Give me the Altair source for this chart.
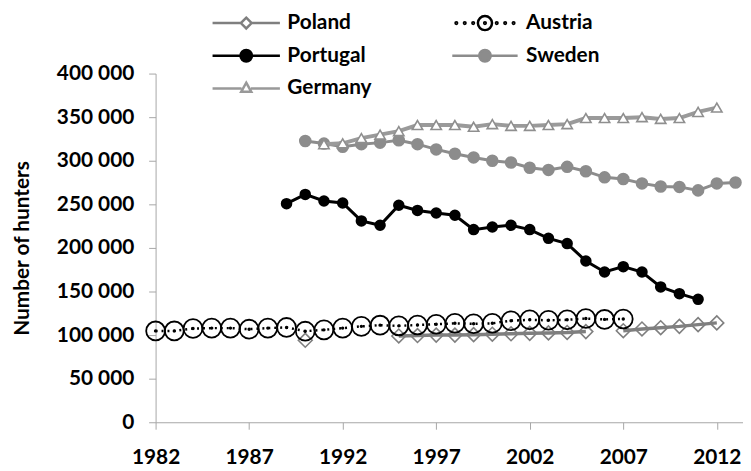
import altair as alt
import pandas as pd

countries = ["Poland", "Austria", "Portugal", "Sweden", "Germany"]

poland_years = [1990, 1995, 1996, 1997, 1998, 1999, 2000, 2001, 2002, 2003, 2004, 2005,
                2007, 2008, 2009, 2010, 2011, 2012]
poland_values = [94000, 99000, 99500, 100000, 100000, 100500, 101000, 101500, 102000, 102500,
                 103000, 104000, 105000, 107000, 108500, 110000, 112000, 114000]

austria_years = list(range(1982, 2008))
austria_values = [104800, 104800, 107500, 108000, 108000, 106800, 108000, 108800, 104500, 106000,
                  108000, 110000, 111400, 110600, 111500, 112500, 113500, 113000, 113500, 116500,
                  117500, 117000, 117500, 119000, 118000, 118500]

portugal_years = list(range(1989, 2012))
portugal_values = [250800, 261400, 253800, 251500, 231000, 226000, 249000, 243000, 240000, 237500,
                   221000, 224000, 226000, 221000, 211000, 205000, 185000, 172400, 178500, 172400,
                   155300, 147500, 141000]

sweden_years = list(range(1990, 2014))
sweden_values = [322700, 319700, 316000, 319000, 320800, 323500, 319000, 313000, 308000, 303800,
                 300000, 298000, 292000, 289500, 293000, 288000, 281000, 279000, 274000, 270500,
                 270000, 266000, 274000, 275000]

germany_years = list(range(1991, 2013))
germany_values = [319000, 320000, 326000, 330000, 334000, 341000, 341000, 341000, 339000, 342000,
                  340000, 340000, 341000, 342000, 349000, 349000, 349000, 350000, 348000, 349000,
                  356000, 361000]

x_ticks = [1982, 1987, 1992, 1997, 2002, 2007, 2012]
y_ticks = [0, 50000, 100000, 150000, 200000, 250000, 300000, 350000, 400000]

FONT = "Lato"


def series(name, yrs, vals):
    rows = []
    seg = 0
    prev = None
    for yr, v in zip(yrs, vals):
        if prev is not None and yr - prev > 1:
            seg += 1
        rows.append({"country": name, "year": yr, "hunters": v, "seg": seg})
        prev = yr
    return pd.DataFrame(rows)


df_pol = series("Poland", poland_years, poland_values)
df_aut = series("Austria", austria_years, austria_values)
df_por = series("Portugal", portugal_years, portugal_values)
df_swe = series("Sweden", sweden_years, sweden_values)
df_ger = series("Germany", germany_years, germany_values)

AXIS_GREY = "#a6a6a6"

X = alt.X(
    "year:Q",
    scale=alt.Scale(domain=[1982, 2013.4], nice=False, zero=False),
    axis=alt.Axis(
        values=x_ticks, format="d", title=None, grid=False,
        domainColor=AXIS_GREY, tickColor=AXIS_GREY, tickSize=7,
        labelFont=FONT, labelFontSize=21, labelFontWeight="bold", labelColor="black",
        labelPadding=18, labelFlush=False, labelOverlap=False,
    ),
)
Y = alt.Y(
    "hunters:Q",
    scale=alt.Scale(domain=[0, 400000], nice=False),
    axis=alt.Axis(
        values=y_ticks, grid=False, title="Number of hunters",
        labelExpr="replace(format(datum.value, ','), ',', ' ')",
        domainColor=AXIS_GREY, tickColor=AXIS_GREY, tickSize=7,
        labelFont=FONT, labelFontSize=21, labelFontWeight="bold", labelColor="black",
        labelPadding=15,
        titleFont=FONT, titleFontSize=21, titleFontWeight="bold", titleColor="black",
        titleAngle=270, titleAlign="center", titleBaseline="middle",
        titleX=-134, titleY=176,
    ),
)


def line(df, color, width, dash=None):
    kw = dict(color=color, strokeWidth=width)
    if dash:
        kw["strokeDash"] = dash
    return alt.Chart(df).mark_line(**kw).encode(x=X, y=Y, detail="seg:N")


swe_line = line(df_swe, "#8c8c8c", 3)
swe_pts = alt.Chart(df_swe).mark_circle(size=160, color="#8c8c8c", opacity=1).encode(x=X, y=Y)

ger_line = line(df_ger, "#9a9a9a", 4)
ger_pts = alt.Chart(df_ger).mark_point(
    shape="triangle-up", size=110, filled=True, fill="white", stroke="#8f8f8f",
    strokeWidth=1.6, opacity=1
).encode(x=X, y=Y)

por_line = line(df_por, "black", 3)
por_pts = alt.Chart(df_por).mark_circle(size=135, color="black", opacity=1).encode(x=X, y=Y)

pol_line = line(df_pol, "#7f7f7f", 3.5)
pol_pts = alt.Chart(df_pol).mark_point(
    shape="diamond", size=196, filled=False, stroke="#7f7f7f", strokeWidth=1.6, opacity=1
).encode(x=X, y=Y)

aut_line = line(df_aut, "black", 2.5, [2, 4])
aut_pts = alt.Chart(df_aut).mark_point(
    shape="circle", size=361, filled=False, stroke="black", strokeWidth=1.8, opacity=1
).encode(x=X, y=Y)
aut_dots = alt.Chart(df_aut).mark_circle(size=12, color="black", opacity=1).encode(x=X, y=Y)


def circ(cx, r):
    return (f"M{cx + r},0A{r},{r} 0 1,1 {cx - r},0A{r},{r} 0 1,1 {cx + r},0Z")


sym_paths = [
    "M-1,0L-0.16,0M0.16,0L1,0M0,-0.16L0.16,0L0,0.16L-0.16,0Z",
    circ(0, 0.21) + circ(0, 0.025) + "".join(circ(c, 0.025) for c in [-0.85, -0.6, -0.35, 0.35, 0.6, 0.85]),
    "M-1,0L1,0" + circ(0, 0.17),
    "M-0.97,0L0.97,0" + circ(0, 0.17),
    "M-1,0L-0.14,0M0.14,0L1,0M0,-0.17L0.15,0.1L-0.15,0.1Z",
]
sym_fill = ["white", "white", "black", "#8c8c8c", "white"]
sym_stroke = ["#7f7f7f", "black", "black", "#8c8c8c", "#999999"]

LEG = alt.Legend(
    title=None, orient="none", legendX=56, legendY=-64, columns=2, direction="horizontal",
    columnPadding=78, rowPadding=7, clipHeight=26, padding=0,
    symbolSize=4624, symbolStrokeWidth=2.5, labelOffset=6,
    labelFont=FONT, labelFontSize=21, labelFontWeight="bold", labelColor="black",
)

legend_df = pd.DataFrame({"country": countries})
legend_layer = alt.Chart(legend_df).transform_filter("false").mark_point(
    filled=True, opacity=1, strokeWidth=2.5
).encode(
    shape=alt.Shape("country:N", scale=alt.Scale(domain=countries, range=sym_paths), legend=LEG),
    fill=alt.Fill("country:N", scale=alt.Scale(domain=countries, range=sym_fill), legend=LEG),
    stroke=alt.Stroke("country:N", scale=alt.Scale(domain=countries, range=sym_stroke), legend=LEG),
)

chart = alt.layer(
    swe_line, swe_pts, ger_line, ger_pts, por_line, por_pts,
    pol_line, pol_pts, aut_line, aut_pts, aut_dots, legend_layer,
).properties(
    width=593, height=352,
    autosize=alt.AutoSizeParams(type="none"),
    padding={"left": 149, "top": 64, "right": 0, "bottom": 47},
).configure_view(stroke=None)

chart.save("out.html", embed_options={"renderer": "svg", "actions": False})
